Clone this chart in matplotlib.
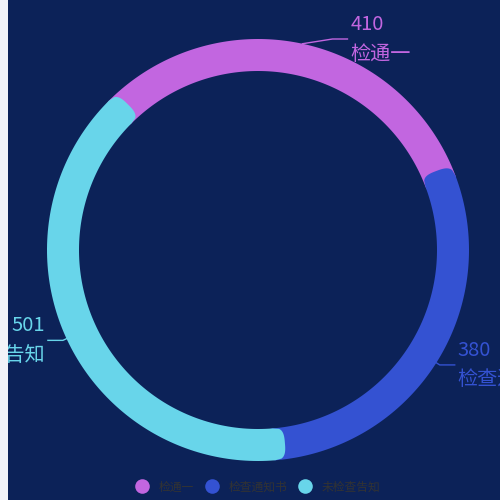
import numpy as np
import matplotlib
matplotlib.use("Agg")
import matplotlib.pyplot as plt
from matplotlib.patches import Polygon
from matplotlib.lines import Line2D

plt.rcParams['font.family'] = ['Noto Sans CJK SC', 'DejaVu Sans']

names = ['检通一', '检查通知书', '未检查告知']
values = [410, 380, 501]
colors = ['#c266e0', '#3452d2', '#68d5ea']

bg = '#0c2258'
page = '#f2f3f8'

# ring geometry in pixel units
cx, cy = 258, 250
r_out, r_in = 211, 179
start_angle = 135
cap_px = 11


def ring_segment(a_hi, a_lo):
    """outline of a ring segment with rounded tabs at both ends"""
    r_mid = (r_out + r_in) / 2
    hw = (r_out - r_in) / 2
    pts = []
    for a in np.linspace(a_hi, a_lo, 120):
        pts.append((r_out, a))
    for t in np.linspace(1, -1, 30):
        r = r_mid + t * hw
        ext = cap_px * (1 - abs(t) ** 3) ** (1 / 3)
        pts.append((r, a_lo - np.degrees(ext / r)))
    for a in np.linspace(a_lo, a_hi, 120):
        pts.append((r_in, a))
    for t in np.linspace(-1, 1, 30):
        r = r_mid + t * hw
        ext = cap_px * (1 - abs(t) ** 3) ** (1 / 3)
        pts.append((r, a_hi + np.degrees(ext / r)))
    return [(cx + r * np.cos(np.radians(a)), cy - r * np.sin(np.radians(a)))
            for r, a in pts]


fig = plt.figure(figsize=(5, 5), dpi=100, facecolor=page)
ax = fig.add_axes([8 / 500, 0, 492 / 500, 1])
ax.set_facecolor(bg)
ax.set_xlim(8, 500)
ax.set_ylim(500, 0)
ax.set_xticks([])
ax.set_yticks([])
for s in ax.spines.values():
    s.set_visible(False)

total = sum(values)
a = start_angle
for name, v, c in zip(names, values, colors):
    span = v / total * 360
    a_hi, a_lo = a, a - span
    a = a_lo
    ax.add_patch(Polygon(ring_segment(a_hi, a_lo), closed=True,
                         facecolor=c, edgecolor='none'))

    # label line: short radial leg, then horizontal leg
    mid = np.radians((a_hi + a_lo) / 2)
    side = 1 if np.cos(mid) >= 0 else -1
    p0 = (cx + r_out * np.cos(mid), cy - r_out * np.sin(mid))
    p1 = [cx + (r_out + 4) * np.cos(mid), cy - (r_out + 4) * np.sin(mid)]
    if p1[1] < 45:  # keep the label inside the canvas
        p1 = [p0[0] + 30 * side, 39]
    p2 = (p1[0] + 15 * side, p1[1])
    ax.plot([p0[0], p1[0], p2[0]], [p0[1], p1[1], p2[1]], color=c, lw=1)
    ha = 'left' if side > 0 else 'right'
    tx = p2[0] + 3 * side
    ax.text(tx, p2[1] - 14.5, str(v), color=c, fontsize=14.5, ha=ha,
            va='center', clip_on=True)
    ax.text(tx, p2[1] + 15, name, color=c, fontsize=14.5, ha=ha,
            va='center', clip_on=True)

handles = [Line2D([], [], ls='none', marker='o', markersize=10.5,
                  markerfacecolor=c, markeredgecolor='none') for c in colors]
ax.legend(handles, names, loc='center', bbox_to_anchor=(257.5, 487),
          bbox_transform=ax.transData, ncol=3, frameon=False,
          fontsize=8.5, labelcolor='#333333', handlelength=1.2,
          handletextpad=0.8, columnspacing=0.9)

fig.savefig('out.png', dpi=100, facecolor=page)
